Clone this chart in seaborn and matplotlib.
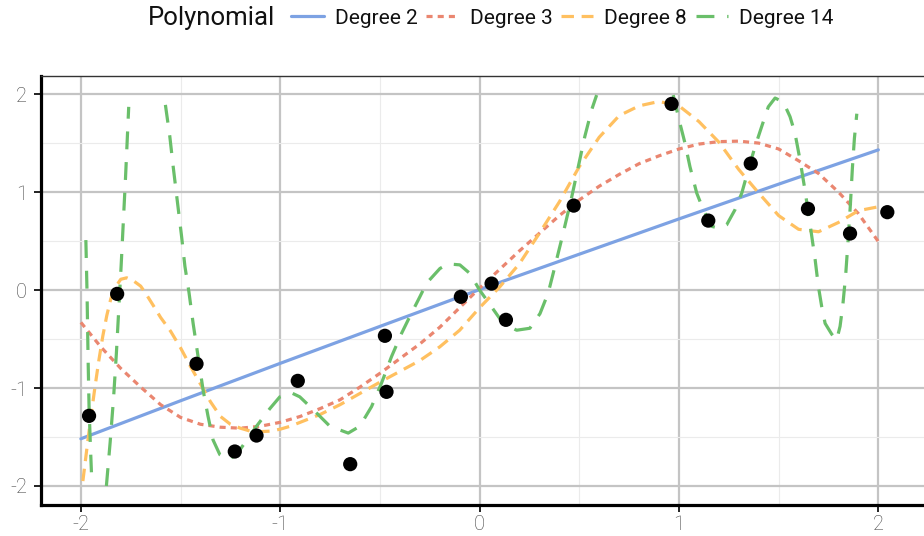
import numpy as np
import pandas as pd
import seaborn as sns
import matplotlib.pyplot as plt
from matplotlib.lines import Line2D
from matplotlib.ticker import MultipleLocator

nan = np.nan

# Observed samples
x_obs = [-1.959, -1.818, -1.420, -1.228, -1.119, -0.912, -0.649, -0.475, -0.467,
         -0.094, 0.060, 0.132, 0.472, 0.963, 1.147, 1.360, 1.647, 1.858, 2.045]
y_obs = [-1.284, -0.039, -0.753, -1.648, -1.485, -0.927, -1.777, -0.467, -1.039,
         -0.069, 0.066, -0.304, 0.862, 1.900, 0.709, 1.291, 0.829, 0.577, 0.795]

# Fitted curves (NaN marks where a curve leaves the [-2, 2] band)
x_deg2 = [-2.0, -1.5, -1.0, -0.5, 0.0, 0.5, 1.0, 1.5, 2.0]
y_deg2 = [-1.518, -1.130, -0.748, -0.371, 0.005, 0.366, 0.726, 1.081, 1.431]

x_deg3 = [-2.0, -1.9, -1.8, -1.7, -1.6, -1.5, -1.4, -1.3, -1.2, -1.1, -1.0,
          -0.9, -0.8, -0.7, -0.6, -0.5, -0.4, -0.3, -0.2, -0.1, 0.0,
          0.1, 0.2, 0.3, 0.4, 0.5, 0.6, 0.7, 0.8, 0.9, 1.0,
          1.1, 1.2, 1.3, 1.4, 1.5, 1.6, 1.7, 1.8, 1.9, 2.0]
y_deg3 = [-0.33, -0.58, -0.80, -0.99, -1.17, -1.30, -1.37, -1.40, -1.41, -1.39, -1.35,
          -1.29, -1.21, -1.12, -0.99, -0.85, -0.70, -0.55, -0.38, -0.18, 0.02,
          0.21, 0.40, 0.58, 0.76, 0.92, 1.06, 1.18, 1.29, 1.37, 1.44,
          1.49, 1.515, 1.52, 1.50, 1.44, 1.32, 1.19, 1.00, 0.78, 0.495]

x_deg8 = [-1.99, -1.97, -1.95, -1.93, -1.91, -1.89, -1.87, -1.85, -1.83, -1.80,
          -1.77, -1.74, -1.70, -1.67, -1.63, -1.60, -1.55, -1.50, -1.45, -1.40,
          -1.35, -1.30, -1.25, -1.20, -1.15, -1.10, -1.05, -1.00, -0.95, -0.90,
          -0.8, -0.7, -0.6, -0.5, -0.4, -0.3, -0.2, -0.1, 0.0, 0.1,
          0.2, 0.3, 0.4, 0.5, 0.6, 0.7, 0.8, 0.9, 1.0, 1.1,
          1.2, 1.3, 1.4, 1.5, 1.6, 1.7, 1.8, 1.9, 2.0]
y_deg8 = [-1.95, -1.62, -1.30, -1.00, -0.72, -0.47, -0.26, -0.09, 0.02, 0.11,
          0.125, 0.10, 0.04, -0.05, -0.18, -0.28, -0.42, -0.59, -0.78, -0.96,
          -1.14, -1.29, -1.37, -1.41, -1.44, -1.445, -1.44, -1.42, -1.39, -1.35,
          -1.27, -1.17, -1.055, -0.94, -0.83, -0.72, -0.58, -0.41, -0.18, 0.03,
          0.27, 0.58, 0.90, 1.26, 1.56, 1.78, 1.88, 1.925, 1.88, 1.72,
          1.51, 1.23, 0.99, 0.76, 0.62, 0.595, 0.69, 0.81, 0.85]

x_deg14 = [-1.975, -1.969, -1.964, -1.959, -1.952, -1.947, nan,
           -1.872, -1.853, -1.836, -1.822, -1.810, -1.798, -1.787, -1.776, -1.766, -1.760, nan,
           -1.576, -1.554, -1.537, -1.517, -1.495, -1.478, -1.458, -1.437, -1.412, -1.387,
           -1.362, -1.337, -1.303, -1.261, -1.219, -1.178, -1.119, -1.052, -1.002, -0.943,
           -0.902, -0.835, -0.751, -0.659, -0.601, -0.542, -0.492, -0.442, -0.391, -0.350,
           -0.300, -0.266, -0.199, -0.158, -0.099, -0.049, 0.0, 0.042, 0.118, 0.186,
           0.252, 0.303, 0.344, 0.369, 0.419, 0.462, 0.495, 0.528, 0.562, 0.587, nan,
           0.971, 1.005, 1.030, 1.055, 1.089, 1.122, 1.164, 1.206, 1.239, 1.281,
           1.315, 1.348, 1.381, 1.415, 1.448, 1.482, 1.523, 1.557, 1.582, 1.607,
           1.632, 1.649, 1.666, 1.683, 1.699, 1.716, 1.733, 1.766, 1.791, 1.808,
           1.822, 1.836, 1.848, 1.860, 1.870, 1.880, 1.892]
y_deg14 = [0.51, -0.03, -0.68, -1.19, -1.60, -1.86, nan,
           -2.0, -1.55, -1.10, -0.65, -0.20, 0.25, 0.70, 1.15, 1.60, 1.87, nan,
           1.89, 1.57, 1.26, 0.92, 0.55, 0.24, -0.02, -0.34, -0.68, -1.02,
           -1.29, -1.53, -1.68, -1.73, -1.68, -1.56, -1.39, -1.21, -1.09, -1.05,
           -1.09, -1.22, -1.39, -1.46, -1.39, -1.19, -0.95, -0.68, -0.44, -0.27,
           -0.07, 0.07, 0.22, 0.267, 0.257, 0.17, 0.0, -0.12, -0.34, -0.41,
           -0.39, -0.24, -0.03, 0.17, 0.58, 0.95, 1.26, 1.57, 1.84, 1.99, nan,
           1.99, 1.70, 1.50, 1.26, 0.99, 0.82, 0.65, 0.63, 0.665, 0.82,
           0.99, 1.23, 1.46, 1.67, 1.87, 1.96, 1.92, 1.77, 1.60, 1.33,
           1.02, 0.785, 0.55, 0.31, 0.04, -0.17, -0.34, -0.45, -0.51, -0.37,
           -0.15, 0.15, 0.50, 0.88, 1.25, 1.55, 1.80]

labels = ["Degree 2", "Degree 3", "Degree 8", "Degree 14"]
colors = ["#7da2e3", "#ea8670", "#ffc060", "#6abf6a"]
dash_styles = ["", (1.9, 1.6), (3.9, 2.4), (5.6, 4.0)]

x_ticks = [-2, -1, 0, 1, 2]
y_ticks = [-2, -1, 0, 1, 2]

sns.set_theme(style="white")
plt.rcParams["font.family"] = ["Roboto", "DejaVu Sans"]

# Long table of curves; a new unit starts after every NaN gap
frames = []
for lab, xs, ys in zip(labels, [x_deg2, x_deg3, x_deg8, x_deg14],
                       [y_deg2, y_deg3, y_deg8, y_deg14]):
    xs = np.asarray(xs, float)
    ys = np.asarray(ys, float)
    gap = np.isnan(ys)
    seg = np.cumsum(gap)
    frames.append(pd.DataFrame({"x": xs[~gap], "y": ys[~gap],
                                "seg": seg[~gap], "Polynomial": lab}))
curves = pd.concat(frames, ignore_index=True)

W, H = 924, 536
fig = plt.figure(figsize=(W / 100, H / 100), dpi=100)
left, right, top, bottom = 41, 924, 75.5, 505
ax = fig.add_axes([left / W, (H - bottom) / H, (right - left) / W, (bottom - top) / H])

ax.set_xlim(-2.2, 2.229)
ax.set_ylim(-2.194, 2.19)

# Grid
ax.xaxis.set_minor_locator(MultipleLocator(0.5))
ax.yaxis.set_minor_locator(MultipleLocator(0.5))
ax.grid(which="minor", color="#ebebeb", linewidth=0.8, zorder=0)
ax.grid(which="major", color="#c4c4c4", linewidth=1.6, zorder=0)
ax.set_axisbelow(True)

sns.lineplot(data=curves, x="x", y="y", hue="Polynomial", style="Polynomial",
             units="seg", estimator=None, sort=False,
             hue_order=labels, style_order=labels,
             palette=dict(zip(labels, colors)),
             dashes=dict(zip(labels, dash_styles)),
             linewidth=2.3, legend=False, ax=ax)

sns.scatterplot(x=x_obs, y=y_obs, color="black", s=105, edgecolor="none",
                zorder=5, ax=ax)

ax.set_xticks(x_ticks)
ax.set_xticklabels([str(v) for v in x_ticks])
ax.set_yticks(y_ticks)
ax.set_yticklabels([str(v) for v in y_ticks])
ax.tick_params(which="major", direction="out", length=5, width=1.4, color="#222222",
               labelsize=14.5, labelcolor="#444444", bottom=True, left=True)
ax.tick_params(axis="x", pad=2.5)
ax.tick_params(axis="y", pad=5)
ax.tick_params(which="minor", length=0)
for lab in ax.get_xticklabels() + ax.get_yticklabels():
    lab.set_fontweight("light")
ax.set_xlabel("")
ax.set_ylabel("")

for side in ["left", "bottom"]:
    ax.spines[side].set_linewidth(2.3)
    ax.spines[side].set_color("black")
ax.spines["top"].set_linewidth(1.0)
ax.spines["top"].set_color("#333333")
ax.spines["right"].set_visible(False)

# Legend across the top
fig.text(148 / W, 1 - 18 / H, "Polynomial", fontsize=18.5, color="#111111",
         va="center", ha="left")
handles = []
for c, d in zip(colors, dash_styles):
    h = Line2D([], [], color=c, linewidth=2.3)
    if d:
        h.set_dashes(d)
    handles.append(h)
fig.legend(handles, labels, ncol=4, loc="center left",
           bbox_to_anchor=(281 / W, 1 - 18 / H), frameon=False, borderpad=0,
           fontsize=15, handlelength=1.55, handletextpad=0.53,
           columnspacing=0.42, labelcolor="#111111")

fig.savefig("out.png", dpi=100)
